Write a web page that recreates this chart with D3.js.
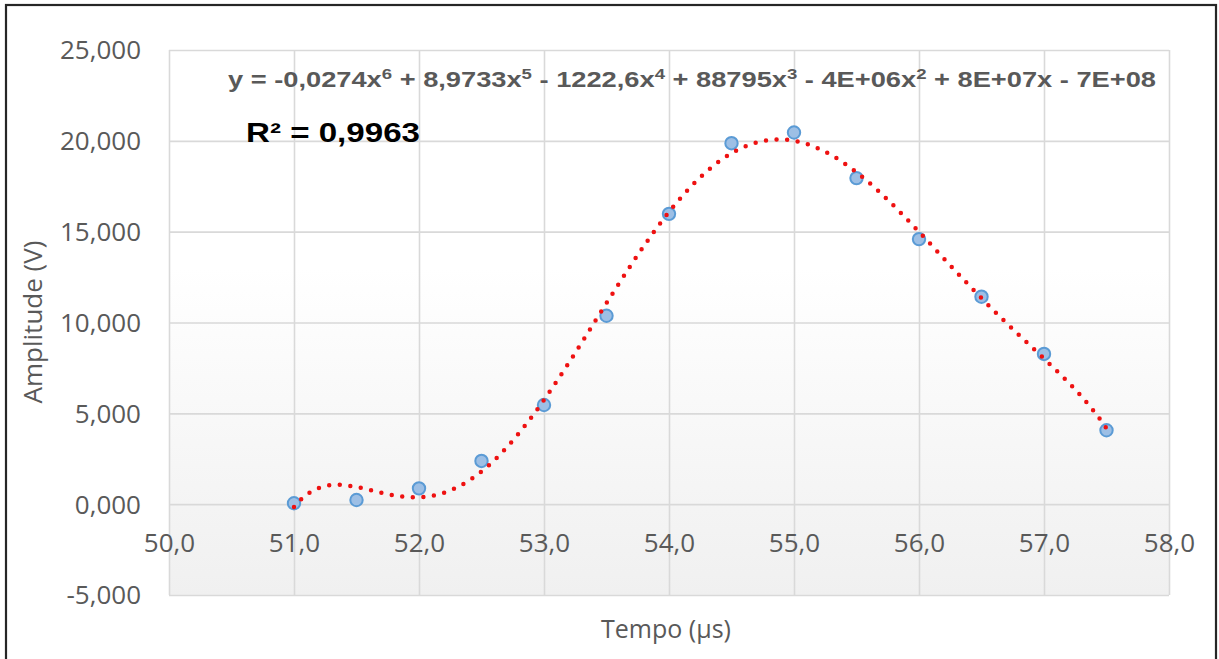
<!DOCTYPE html>
<html>
<head>
<meta charset="utf-8">
<script src="https://cdn.jsdelivr.net/npm/d3@7"></script>
<style>
  html, body { margin: 0; padding: 0; background: #ffffff; }
  svg { display: block; }
</style>
</head>
<body>
<svg id="chart" width="1219" height="659"></svg>
<script>
// Measured pulse: time (µs) and amplitude (V)
const tempo = [51.0, 51.5, 52.0, 52.5, 53.0, 53.5, 54.0, 54.5, 55.0, 55.5, 56.0, 56.5, 57.0, 57.5];
const amplitude = [0.05, 0.23, 0.87, 2.38, 5.46, 10.37, 15.98, 19.87, 20.46, 17.95, 14.59, 11.42, 8.27, 4.07];

// Axis ticks
const xTicks = [50, 51, 52, 53, 54, 55, 56, 57, 58];
const yTicks = [-5, 0, 5, 10, 15, 20, 25];

// Labels
const xTitle = "Tempo (µs)";
const yTitle = "Amplitude (V)";
const eqParts = [
  ["y = -0,0274x", "6"], [" + 8,9733x", "5"], [" - 1222,6x", "4"],
  [" + 88795x", "3"], [" - 4E+06x", "2"], [" + 8E+07x - 7E+08", ""]
];
const r2Label = "R² = 0,9963";
const trendDegree = 6;

const plot = { left: 169, right: 1169, top: 50, bottom: 595 };
const grey = "#595959";
const gridColor = "#d9d9d9";

const ptBR = d3.formatLocale({ decimal: ",", thousands: ".", grouping: [3], currency: ["R$", ""], minus: "-" });
const fmtY = ptBR.format(".3f");
const fmtX = ptBR.format(".1f");

const svg = d3.select("#chart");

const x = d3.scaleLinear().domain([50, 58]).range([plot.left, plot.right]);
const y = d3.scaleLinear().domain([-5, 25]).range([plot.bottom, plot.top]);

// Plot-area fill: white fading to light grey at the bottom
const defs = svg.append("defs");
const grad = defs.append("linearGradient").attr("id", "plotFill")
  .attr("x1", 0).attr("y1", 0).attr("x2", 0).attr("y2", 1);
grad.append("stop").attr("offset", "0%").attr("stop-color", "#ffffff");
grad.append("stop").attr("offset", "40%").attr("stop-color", "#ffffff");
grad.append("stop").attr("offset", "100%").attr("stop-color", "#f0f0f0");

svg.append("rect")
  .attr("x", plot.left).attr("y", plot.top)
  .attr("width", plot.right - plot.left).attr("height", plot.bottom - plot.top)
  .attr("fill", "url(#plotFill)");

// Gridlines
const gx = d3.axisBottom(x).tickValues(xTicks).tickSize(-(plot.bottom - plot.top)).tickFormat("");
svg.append("g").attr("transform", `translate(0,${plot.bottom})`).call(gx)
  .call(g => g.select(".domain").remove())
  .call(g => g.selectAll("line").attr("stroke", gridColor).attr("stroke-width", 1.6));

const gy = d3.axisLeft(y).tickValues(yTicks).tickSize(-(plot.right - plot.left)).tickFormat("");
svg.append("g").attr("transform", `translate(${plot.left},0)`).call(gy)
  .call(g => g.select(".domain").remove())
  .call(g => g.selectAll("line").attr("stroke", gridColor).attr("stroke-width", 1.6));

// Tick labels
const xAxis = d3.axisBottom(x).tickValues(xTicks).tickSize(0).tickPadding(0).tickFormat(fmtX);
svg.append("g").call(xAxis)
  .call(g => g.select(".domain").remove())
  .call(g => g.selectAll("text")
    .attr("y", 552).attr("dy", null)
    .attr("fill", grey)
    .attr("font-family", "'Open Sans', sans-serif")
    .attr("font-size", 26));

const yAxis = d3.axisLeft(y).tickValues(yTicks).tickSize(0).tickPadding(0).tickFormat(fmtY);
svg.append("g").attr("transform", `translate(141,0)`).call(yAxis)
  .call(g => g.select(".domain").remove())
  .call(g => g.selectAll("text")
    .attr("x", 0).attr("dy", "0.34em")
    .attr("fill", grey)
    .attr("font-family", "'Open Sans', sans-serif")
    .attr("font-size", 26));

// Axis titles
svg.append("text")
  .attr("x", 666).attr("y", 638)
  .attr("text-anchor", "middle")
  .attr("fill", grey)
  .attr("font-family", "'Open Sans', sans-serif")
  .attr("font-size", 25)
  .text(xTitle);

svg.append("text")
  .attr("transform", "translate(42,322) rotate(-90)")
  .attr("text-anchor", "middle")
  .attr("fill", grey)
  .attr("font-family", "'Open Sans', sans-serif")
  .attr("font-size", 26)
  .text(yTitle);

// Least-squares polynomial trendline (x centred and scaled for stability)
function polyfit(xs, ys, deg) {
  const mx = d3.mean(xs);
  const sx = (d3.max(xs) - d3.min(xs)) / 2;
  const n = deg + 1;
  const A = Array.from({ length: n }, () => new Array(n).fill(0));
  const b = new Array(n).fill(0);
  xs.forEach((xv, i) => {
    const t = (xv - mx) / sx;
    const pw = [];
    for (let k = 0; k < 2 * n; k++) pw.push(Math.pow(t, k));
    for (let r = 0; r < n; r++) {
      b[r] += ys[i] * pw[r];
      for (let c = 0; c < n; c++) A[r][c] += pw[r + c];
    }
  });
  for (let col = 0; col < n; col++) {
    let piv = col;
    for (let r = col + 1; r < n; r++) if (Math.abs(A[r][col]) > Math.abs(A[piv][col])) piv = r;
    [A[col], A[piv]] = [A[piv], A[col]];
    [b[col], b[piv]] = [b[piv], b[col]];
    for (let r = col + 1; r < n; r++) {
      const f = A[r][col] / A[col][col];
      for (let c = col; c < n; c++) A[r][c] -= f * A[col][c];
      b[r] -= f * b[col];
    }
  }
  const coef = new Array(n).fill(0);
  for (let r = n - 1; r >= 0; r--) {
    let s = b[r];
    for (let c = r + 1; c < n; c++) s -= A[r][c] * coef[c];
    coef[r] = s / A[r][r];
  }
  return xv => {
    const t = (xv - mx) / sx;
    let v = 0;
    for (let k = n - 1; k >= 0; k--) v = v * t + coef[k];
    return v;
  };
}

const fit = polyfit(tempo, amplitude, trendDegree);
const x0 = d3.min(tempo), x1 = d3.max(tempo);
const trend = d3.range(0, 651).map(i => {
  const xv = x0 + (x1 - x0) * i / 650;
  return [xv, fit(xv)];
});

// Data markers
svg.append("g").selectAll("circle")
  .data(tempo.map((t, i) => [t, amplitude[i]]))
  .join("circle")
  .attr("cx", d => x(d[0]))
  .attr("cy", d => y(d[1]))
  .attr("r", 6.2)
  .attr("fill", "#9dbfe5")
  .attr("stroke", "#5b9bd5")
  .attr("stroke-width", 2);

// Dotted trendline on top of the markers
svg.append("path")
  .datum(trend)
  .attr("d", d3.line().x(d => x(d[0])).y(d => y(d[1])))
  .attr("fill", "none")
  .attr("stroke", "#ee1111")
  .attr("stroke-width", 4.5)
  .attr("stroke-linecap", "round")
  .attr("stroke-dasharray", "0 10.6");

// Trendline equation with superscript exponents
const eq = svg.append("text")
  .attr("x", 228).attr("y", 87)
  .attr("fill", grey)
  .attr("font-family", "'Liberation Sans', Arial, sans-serif")
  .attr("font-weight", "bold")
  .attr("font-size", 22)
  .attr("textLength", 928)
  .attr("lengthAdjust", "spacingAndGlyphs");
let raised = false;
eqParts.forEach(([base, sup]) => {
  eq.append("tspan").attr("dy", raised ? 8 : 0).text(base);
  raised = false;
  if (sup) {
    eq.append("tspan").attr("dy", -8).attr("font-size", 15).text(sup);
    raised = true;
  }
});

// Coefficient of determination
svg.append("text")
  .attr("x", 246).attr("y", 142)
  .attr("fill", "#000000")
  .attr("font-family", "'Liberation Sans', Arial, sans-serif")
  .attr("font-weight", "bold")
  .attr("font-size", 28)
  .attr("textLength", 174)
  .attr("lengthAdjust", "spacingAndGlyphs")
  .text(r2Label);

// Chart frame
svg.append("rect")
  .attr("x", 6).attr("y", 5)
  .attr("width", 1210).attr("height", 700)
  .attr("fill", "none")
  .attr("stroke", "#262626")
  .attr("stroke-width", 2.2);
</script>
</body>
</html>
